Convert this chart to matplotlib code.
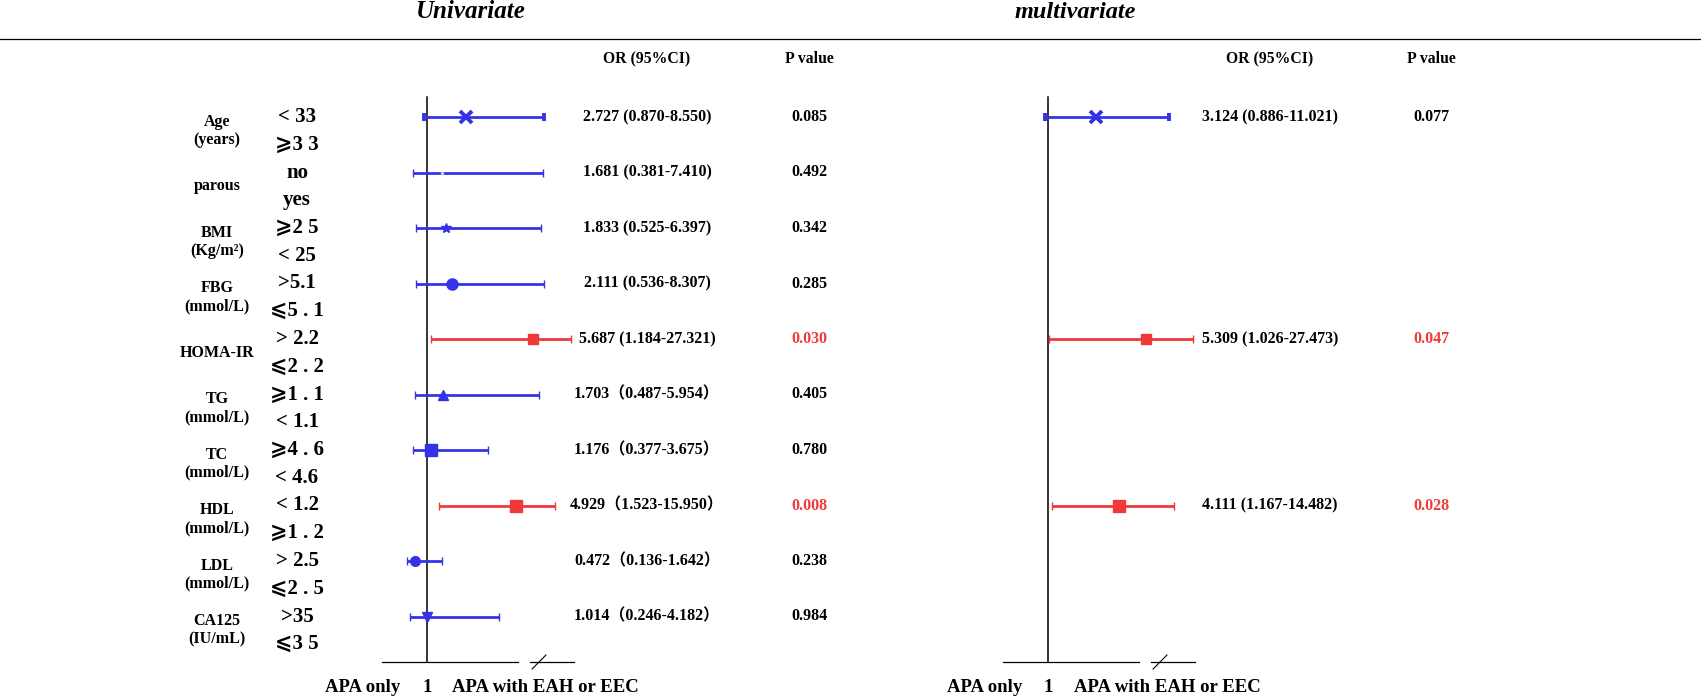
import numpy as np
import matplotlib
matplotlib.use('Agg')
import matplotlib.pyplot as plt
from matplotlib.lines import Line2D
from matplotlib.transforms import blended_transform_factory

plt.rcParams['font.family'] = ['Liberation Serif', 'DejaVu Sans', 'Noto Sans CJK SC']
plt.rcParams['font.weight'] = 'bold'

# ---- data ----
groups = ['Age\n(years)', 'parous', 'BMI\n(Kg/m²)', 'FBG\n(mmol/L)', 'HOMA-IR',
          'TG\n(mmol/L)', 'TC\n(mmol/L)', 'HDL\n(mmol/L)', 'LDL\n(mmol/L)', 'CA125\n(IU/mL)']
sub_top = ['< 33', 'no', '⩾2 5', '>5.1', '> 2.2', '⩾1 . 1', '⩾4 . 6', '< 1.2', '> 2.5', '>35']
sub_bot = ['⩾3 3', 'yes', '< 25', '⩽5 . 1', '⩽2 . 2', '< 1.1', '< 4.6', '⩾1 . 2', '⩽2 . 5', '⩽3 5']

uni_or = [2.727, 1.681, 1.833, 2.111, 5.687, 1.703, 1.176, 4.929, 0.472, 1.014]
uni_lo = [0.870, 0.381, 0.525, 0.536, 1.184, 0.487, 0.377, 1.523, 0.136, 0.246]
uni_hi = [8.550, 7.410, 6.397, 8.307, 27.321, 5.954, 3.675, 15.950, 1.642, 4.182]
uni_p = ['0.085', '0.492', '0.342', '0.285', '0.030', '0.405', '0.780', '0.008', '0.238', '0.984']
uni_wide = [False] * 5 + [True] * 5   # rows written with full-width brackets

multi_rows = [0, 4, 7]
multi_or = [3.124, 5.309, 4.111]
multi_lo = [0.886, 1.026, 1.167]
multi_hi = [11.021, 27.473, 14.482]
multi_p = ['0.077', '0.047', '0.028']

# marker styles
uni_mk = ['x', '.', '*', 'o', 's', '^', 's', 's', 'o', 'v']
uni_ms = [8, 3, 7, 8, 7, 7, 9, 9, 7, 7]
multi_mk = ['x', 's', 's']
multi_ms = [8, 7, 9]

BLUE = '#3434e6'
RED = '#f03a3a'

# ---- layout helpers (pixels) ----
W, H = 1701, 700
PX = 22.7            # pixels per OR unit before the break
BRK, K = 6.0, 0.064  # axis break at OR=6, compressed beyond


def fwd(x):
    x = np.asarray(x, float)
    return np.where(x <= BRK, x, BRK + (x - BRK) * K)


def inv(y):
    y = np.asarray(y, float)
    return np.where(y <= BRK, y, BRK + (y - BRK) / K)


def row(py):
    return (py - 117) / 55.5


fig = plt.figure(figsize=(W / 100, H / 100), dpi=100)


def make_ax(ref_px):
    x0 = ref_px - 2.5 * PX
    ax = fig.add_axes([x0 / W, 1 - 675 / H, 9.5 * PX / W, 585 / H])
    ax.set_xscale('function', functions=(fwd, inv))
    ax.set_xlim(-1.5, float(inv(8)))
    ax.set_ylim(row(675), row(90))
    ax.axis('off')
    # reference line at OR = 1
    ax.plot([1, 1], [row(662), row(97)], color='black', lw=1.1)
    # broken bottom axis
    ax.plot([-1, 5], [row(662)] * 2, color='black', lw=0.9)
    ax.plot([5.55, float(inv(7.46))], [row(662)] * 2, color='black', lw=0.9)
    ax.plot([5.63, float(inv(6.24))], [row(669), row(655)], color='black', lw=0.8)
    return ax


def forest(ax, rows, ors, los, his, ps, mks, mss):
    for r, o, lo, hi, p, mk, ms in zip(rows, ors, los, his, ps, mks, mss):
        c = RED if float(p) < 0.05 else BLUE
        mfc = '#c8c8ee' if mk == '.' else c
        ax.errorbar([o], [r], xerr=[[o - lo], [hi - o]], fmt=mk, color=c, ecolor=c,
                    mfc=mfc, mec=mfc, ms=ms, mew=2.8 if mk == 'x' else 1,
                    elinewidth=2.0, capsize=3, capthick=2)


def fx(px):
    return px / W


axL = make_ax(427)
axR = make_ax(1048)
forest(axL, range(10), uni_or, uni_lo, uni_hi, uni_p, uni_mk, uni_ms)
forest(axR, multi_rows, multi_or, multi_lo, multi_hi, multi_p, multi_mk, multi_ms)

tL = blended_transform_factory(fig.transFigure, axL.transData)
tR = blended_transform_factory(fig.transFigure, axR.transData)

# row labels
for i in range(10):
    axL.text(fx(217), i + 0.25, groups[i], transform=tL, ha='center', va='center',
             fontsize=11.5, linespacing=1.15)
    axL.text(fx(297), i, sub_top[i], transform=tL, ha='center', va='center', fontsize=15)
    axL.text(fx(297), i + 0.5, sub_bot[i], transform=tL, ha='center', va='center', fontsize=15)

# value columns
for i in range(10):
    if uni_wide[i]:
        s = f'{uni_or[i]:.3f}（{uni_lo[i]:.3f}-{uni_hi[i]:.3f}）'
    else:
        s = f'{uni_or[i]:.3f} ({uni_lo[i]:.3f}-{uni_hi[i]:.3f})'
    axL.text(fx(647), i, s, transform=tL, ha='center', va='center', fontsize=11.5)
    pc = RED if float(uni_p[i]) < 0.05 else 'black'
    axL.text(fx(809), i, uni_p[i], transform=tL, ha='center', va='center', fontsize=11.5, color=pc)

for r, o, lo, hi, p in zip(multi_rows, multi_or, multi_lo, multi_hi, multi_p):
    axR.text(fx(1270), r, f'{o:.3f} ({lo:.3f}-{hi:.3f})', transform=tR,
             ha='center', va='center', fontsize=11.5)
    pc = RED if float(p) < 0.05 else 'black'
    axR.text(fx(1431), r, p, transform=tR, ha='center', va='center', fontsize=11.5, color=pc)

# headers
for x in [647, 1270]:
    fig.text(fx(x), 1 - 59 / H, 'OR (95%CI)', ha='center', va='center', fontsize=11.3)
for x in [809, 1431]:
    fig.text(fx(x), 1 - 59 / H, 'P value', ha='center', va='center', fontsize=11.3)

# titles and rule
fig.text(fx(471), 1 - 12 / H, 'Univariate', ha='center', va='center', fontsize=18, style='italic')
fig.text(fx(1075), 1 - 13 / H, 'multivariate', ha='center', va='center', fontsize=17.5, style='italic')
fig.add_artist(Line2D([0, 1], [1 - 39 / H] * 2, color='black', lw=0.9, transform=fig.transFigure))

# bottom labels
for ax, t, left in [(axL, tL, 325), (axR, tR, 947)]:
    yb = row(687)
    ax.text(fx(left), yb, 'APA only', transform=t, ha='left', va='center', fontsize=13.5)
    ax.text(1, yb, '1', transform=ax.transData, ha='center', va='center', fontsize=13.5)
    ax.text(fx(left + 127), yb, 'APA with EAH or EEC', transform=t, ha='left', va='center',
            fontsize=13.5)

fig.savefig('out.png', dpi=100, facecolor='white')
